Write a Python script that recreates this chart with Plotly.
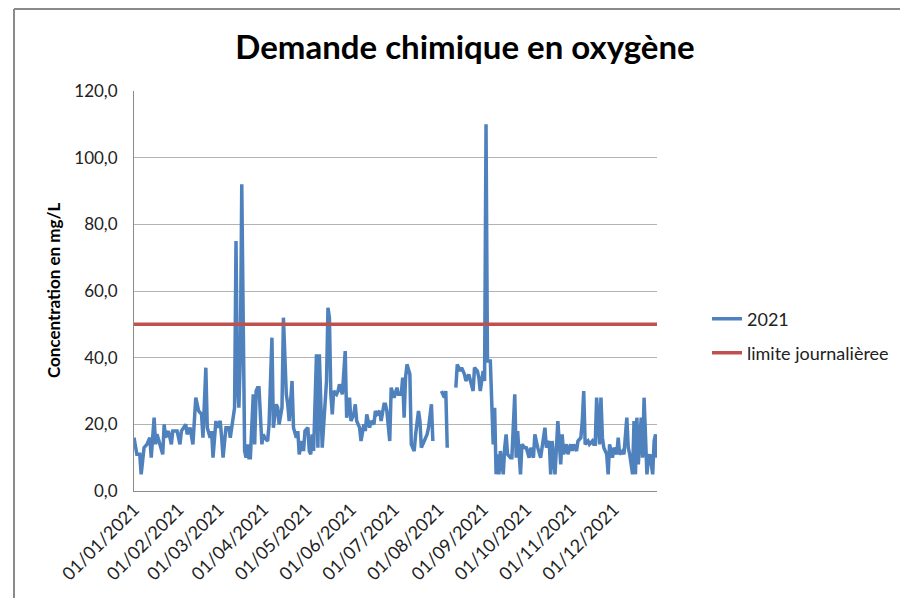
import datetime as dt
import plotly.graph_objects as go

# ---- data ----
start_date = dt.date(2021, 1, 1)
day_offsets = [
    0, 2, 4, 5, 7, 9, 11, 12, 14, 15, 16, 18, 20, 21, 22, 24, 26, 27, 30, 32, 33, 36, 37, 39, 41,
    43, 45, 47, 48, 50, 51, 53, 54, 55, 57, 58, 60, 61, 62, 64, 66, 67, 69, 70, 71, 72, 73, 74,
    75, 76, 77, 78, 79, 80, 81, 83, 84, 85, 86, 87, 89, 90, 91, 93, 94, 96, 97, 99, 100, 101,
    103, 104, 106, 107, 108, 110, 111, 113, 114, 115, 117, 118, 119, 121, 122, 123, 124, 125,
    127, 128, 129, 131, 132, 134, 135, 136, 137, 138, 139, 141, 142, 143, 145, 146, 147, 148,
    150, 151, 153, 154, 155, 157, 158, 160, 161, 162, 164, 165, 167, 168, 169, 171, 172, 174,
    175, 176, 178, 179, 181, 183, 184,
    186, 187, 188, 189, 190, 192, 193, 195, 196, 198, 199, 200, 202, 204, 205, 206, 207, 208,
    211, 214, 216, 217, 218, 221, 224, 225, 227, 228, 230, 231, 233, 234, 236, 237, 239, 240,
    241, 243, 244, 245, 246, 248, 249, 250, 251, 252, 253, 254, 255, 257, 258, 259, 260, 262,
    263, 265, 266, 267, 269, 270, 272, 273, 275, 276, 278, 279, 281, 283, 284, 286, 287, 289,
    290, 291, 293, 294, 295, 297, 298, 299, 301, 302, 304, 305, 306, 308, 309, 311, 312, 313,
    314, 316, 317, 319, 320, 321, 322, 324, 325, 326, 327, 329, 330, 331, 333, 334, 336, 337,
    338, 340, 341, 343, 344, 345, 347, 348, 349, 350, 351, 353, 354, 355, 357, 358, 359, 361,
    362, 363, 364,
]
dco_2021 = [
    16, 11, 11, 5, 13, 14, 16, 10, 22, 14, 17, 14, 11, 20, 16, 18, 14, 18, 18, 14, 18, 20, 17, 19, 14,
    28, 24, 23, 16, 37, 19, 16, 18, 10, 21, 19, 21, 16, 10, 19, 19, 16, 23, 25, 75, 32, 25, 40,
    92, 38, 12, 10, 14, 10, 10, 29, 14, 30, 31, 31, 14, 17, 16, 15, 20, 46, 19, 26, 25, 20,
    25, 52, 29, 26, 21, 33, 19, 16, 18, 11, 15, 12, 18, 19, 12, 11, 17, 12,
    41, 13, 41, 13, 20, 33, 55, 52, 29, 23, 30, 29, 30, 32, 29, 37, 42, 22,
    28, 21, 23, 26, 21, 19, 15, 20, 18, 23, 19, 21, 20, 24, 23, 24, 21, 26,
    26, 24, 15, 31, 28, 31, 29,
    29, 34, 22, 34, 38, 35, 14, 12, 17, 24, 21, 13, 15, 17, 19, 24, 26, 15,
    None, 30, 28, 30, 13, None, 31, 38, 36, 37, 35, 33, 35, 33, 30, 37, 36, 34,
    30, 36, 33, 110, 39, 39, 27, 14, 25, 5, 11, 5, 12, 5, 13, 17, 11, 10,
    10, 29, 10, 18, 5, 14, 13, 13, 10, 13, 10, 17, 13, 10, 13, 19, 13, 15,
    5, 15, 5, 13, 21, 8, 17, 11, 14, 11, 14, 12, 14, 12, 15, 16, 21, 30,
    14, 15, 14, 15, 14, 14, 28, 14, 28, 16, 13, 11, 5, 14, 10, 13, 11, 16,
    11, 12, 11, 22, 13, 11, 5, 21, 5, 22, 8, 22, 10, 28, 5, 10, 11, 5,
    15, 17, 10,
]
limit_value = 50
limit_days = [0, 364]
series_names = ["2021", "limite journalièree"]
tick_months = list(range(1, 13))
y_ticks = [0, 20, 40, 60, 80, 100, 120]

dates = [start_date + dt.timedelta(days=d) for d in day_offsets]
limit_dates = [start_date + dt.timedelta(days=d) for d in limit_days]
tick_dates = [dt.date(2021, m, 1) for m in tick_months]
tick_text = [d.strftime("%d/%m/%Y") for d in tick_dates]

FONT = "Lato, Noto Sans, sans-serif"

fig = go.Figure()
fig.add_trace(go.Scatter(
    x=dates, y=dco_2021, mode="lines", name=series_names[0],
    line=dict(color="#4F81BD", width=3.5), connectgaps=False, legend="legend", showlegend=True,
))
fig.add_trace(go.Scatter(
    x=limit_dates, y=[limit_value] * len(limit_dates), mode="lines", name=series_names[1],
    line=dict(color="#C0504D", width=3.5), legend="legend2", showlegend=True,
))

OFF = 8  # page body margin
W, H = 908 - OFF, 598 - OFF
L, R, T, B = 134 - OFF, 657 - OFF, 91 - OFF, 491 - OFF
def px(xp):
    return (xp - OFF - L) / (R - L)
def py(yp):
    return (B - (yp - OFF)) / (B - T)

fig.update_layout(
    width=W, height=H, showlegend=True,
    margin=dict(l=L, r=W - R, t=T, b=H - B, pad=0),
    paper_bgcolor="white", plot_bgcolor="white",
    font=dict(family=FONT, color="#222222"),
    title=dict(text="<b>Demande chimique en oxygène</b>", x=(465 - OFF) / W, xref="container",
               xanchor="center", y=1 - (47 - OFF) / H, yref="container", yanchor="middle",
               font=dict(size=33, color="#000000", family=FONT)),
    xaxis=dict(
        type="date", range=[start_date, start_date + dt.timedelta(days=364)],
        tickvals=tick_dates, ticktext=tick_text, tickangle=-45,
        tickfont=dict(size=18, color="#222222"),
        showgrid=False, showline=True, linecolor="#8c8c8c", linewidth=1,
        ticks="", zeroline=False,
    ),
    yaxis=dict(
        range=[0, 120], tickvals=y_ticks, ticktext=[f"{v:.1f}".replace(".", ",") for v in y_ticks],
        tickfont=dict(size=17, color="#222222"),
        showgrid=True, gridcolor="#b3b3b3", gridwidth=1,
        showline=True, linecolor="#8c8c8c", linewidth=1,
        ticks="", ticklabelstandoff=12, zeroline=False,
    ),
    legend=dict(x=px(707), y=py(319), xanchor="left", yanchor="middle",
                font=dict(size=18, color="#222222"), bgcolor="rgba(0,0,0,0)"),
    legend2=dict(x=px(707), y=py(353), xanchor="left", yanchor="middle",
                 font=dict(size=18, color="#222222"), bgcolor="rgba(0,0,0,0)"),
    annotations=[dict(
        text="<b>Concentration en mg/L</b>", textangle=-90, x=px(53), y=py(291),
        xref="paper", yref="paper", showarrow=False, xanchor="center", yanchor="middle",
        font=dict(size=17, color="#000000"),
    )],
    shapes=[
        dict(type="line", xref="paper", yref="paper", x0=px(14), x1=px(14), y0=py(700), y1=py(9),
             line=dict(color="#8a8a8a", width=2)),
        dict(type="line", xref="paper", yref="paper", x0=px(14), x1=px(1000), y0=py(9), y1=py(9),
             line=dict(color="#8a8a8a", width=2)),
    ],
)

fig.write_html("out.html")
